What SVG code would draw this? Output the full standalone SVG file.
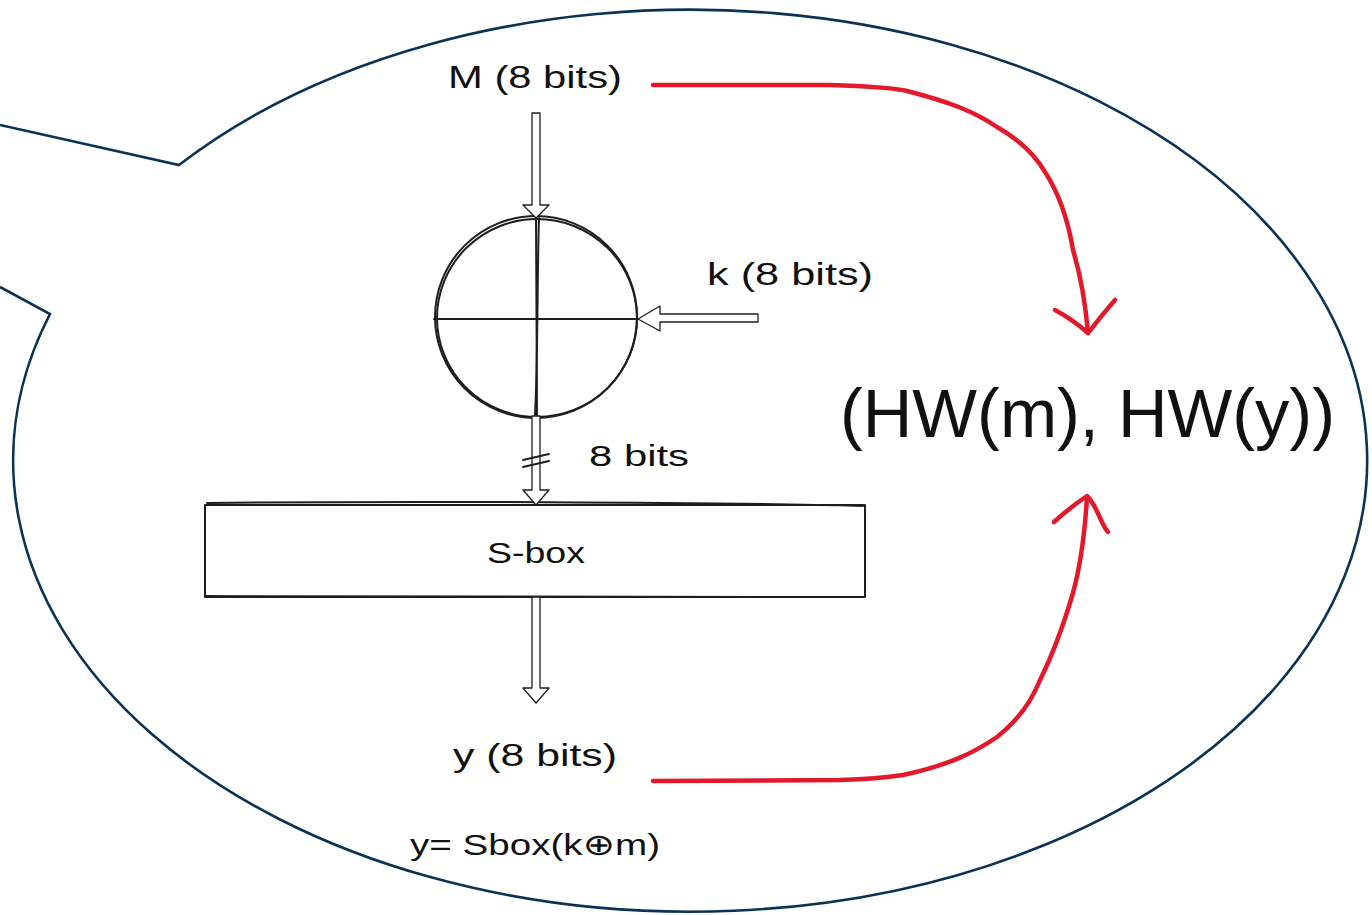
<svg xmlns="http://www.w3.org/2000/svg" width="1372" height="915" viewBox="0 0 1372 915">
<style>
.t{font-family:"Liberation Sans","DejaVu Sans",sans-serif;fill:#111}
.ink{fill:none;stroke:#1e1e1e;stroke-width:2;stroke-linecap:round;stroke-linejoin:round}
.hollow{fill:#fff;stroke:#1e1e1e;stroke-width:1.3;stroke-linejoin:round}
.red{fill:none;stroke:#e3182a;stroke-width:4.5;stroke-linecap:round;stroke-linejoin:round}
</style>
<rect width="1372" height="915" fill="#fff"/>
<g id="callout">
<path d="M0 125 L179 165 A677 451 0 1 1 50 314 L0 287" fill="#fff" stroke="#0a3254" stroke-width="2.6" stroke-linejoin="miter"/>
</g>
<g id="xor">
<circle cx="536" cy="317" r="101" class="ink"/>
<ellipse cx="537" cy="318" rx="100" ry="99" class="ink" stroke-width="0.9"/>
<path d="M536 216 L537 416" class="ink"/>
<path d="M434 319 L638 319" class="ink"/>
<path d="M539 218 C537 280 538 360 535 415" class="ink" stroke-width="0.8"/>
</g>
<g id="sbox">
<rect x="205" y="505" width="660" height="92" class="ink" fill="#fff"/>
<path d="M207 503 C400 501 700 502 863 506 M205 596 C450 598 700 595 864 597" class="ink" stroke-width="0.8"/>
<text class="t" x="536" y="563" font-size="29" text-anchor="middle" textLength="98" lengthAdjust="spacingAndGlyphs">S-box</text>
</g>
<g id="label-m">
<text class="t" x="448" y="88" font-size="31" textLength="174" lengthAdjust="spacingAndGlyphs">M (8 bits)</text>
</g>
<g id="label-k">
<text class="t" x="707" y="285" font-size="31" textLength="166" lengthAdjust="spacingAndGlyphs">k (8 bits)</text>
</g>
<g id="label-8bits">
<text class="t" x="589" y="466" font-size="30" textLength="100" lengthAdjust="spacingAndGlyphs">8 bits</text>
</g>
<g id="label-y">
<text class="t" x="453" y="766" font-size="31" textLength="164" lengthAdjust="spacingAndGlyphs">y (8 bits)</text>
</g>
<g id="label-formula">
<text class="t" x="410" y="855" font-size="30" textLength="250" lengthAdjust="spacingAndGlyphs">y= Sbox(k⊕m)</text>
</g>
<g id="label-hw">
<text class="t" x="840" y="437" font-size="68" textLength="495" lengthAdjust="spacingAndGlyphs">(HW(m), HW(y))</text>
</g>
<g id="connectors">
<path class="hollow" d="M532 113 L540 113 L540 205 L549 205 L536 218 L523 205 L532 205 Z"/>
<path class="hollow" d="M758 314 L758 322 L660 322 L660 331 L638 319 L660 306 L660 314 Z"/>
<path class="hollow" d="M532 416 L540 416 L540 490 L549 490 L536 505 L523 490 L532 490 Z"/>
<path class="ink" d="M523 460 L549 454 M523 467 L549 461" stroke-width="1.3"/>
<path class="hollow" d="M532 597 L540 597 L540 688 L549 688 L536 703 L523 688 L532 688 Z"/>
<path class="red" d="M653 85 L830 85 C870 86 900 89 907 91 C950 102 975 112 997 127 C1020 140 1035 155 1045 172 C1060 195 1068 220 1073 250 C1082 280 1086 310 1088 333"/>
<path class="red" d="M1055 310 C1070 318 1080 326 1088 333 C1098 320 1108 308 1115 300"/>
<path class="red" d="M653 781 L840 780 C875 779 890 777 903 775 C950 765 975 752 997 737 C1015 723 1030 705 1040 680 C1055 650 1065 620 1073 593 C1082 560 1085 530 1087 497"/>
<path class="red" d="M1054 522 C1065 512 1078 502 1087 496 C1097 505 1101 525 1108 532"/>
</g>
</svg>
